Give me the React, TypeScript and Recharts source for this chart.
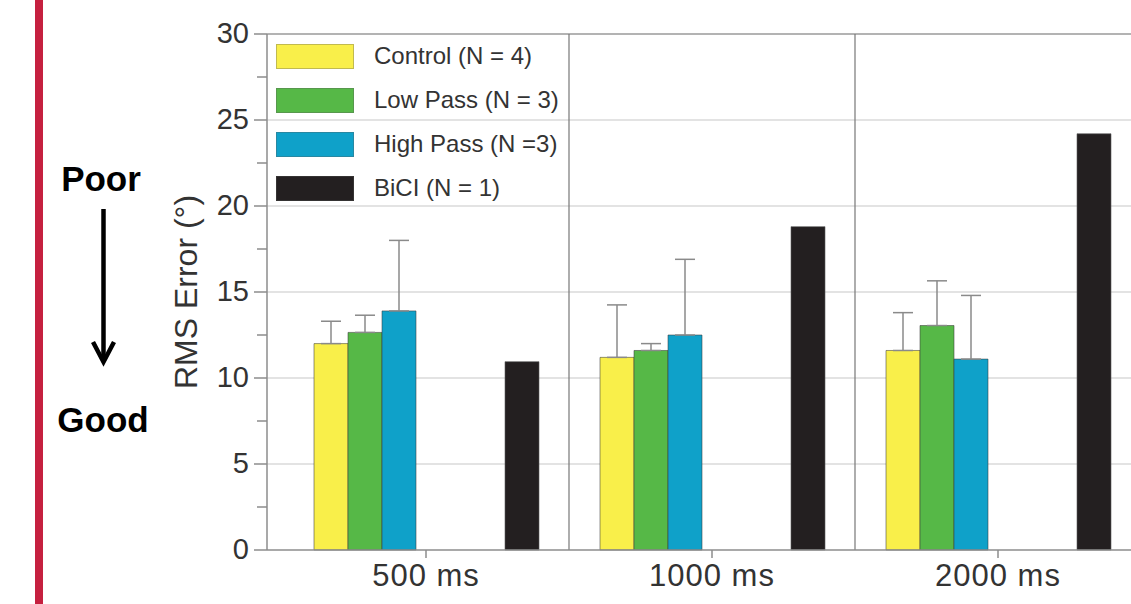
import { BarChart, Bar, XAxis, YAxis, CartesianGrid, ErrorBar, Legend, ReferenceLine } from 'recharts';

const durations = ['500 ms', '1000 ms', '2000 ms'];

const control = [12.0, 11.2, 11.6];
const controlErr = [1.3, 3.05, 2.2];
const lowPass = [12.65, 11.6, 13.05];
const lowPassErr = [1.0, 0.4, 2.6];
const highPass = [13.9, 12.5, 11.1];
const highPassErr = [4.1, 4.4, 3.7];
const bici = [10.95, 18.8, 24.2];

const seriesNames = ['Control (N = 4)', 'Low Pass (N = 3)', 'High Pass (N =3)', 'BiCI (N = 1)'];

const yTicks = [0, 2.5, 5, 7.5, 10, 12.5, 15, 17.5, 20, 22.5, 25, 27.5, 30];
const gridValues = [5, 10, 15, 20, 25];

const data = durations.map((d, i) => ({
  duration: d,
  control: control[i],
  controlErr: [0, controlErr[i]],
  lowPass: lowPass[i],
  lowPassErr: [0, lowPassErr[i]],
  highPass: highPass[i],
  highPassErr: [0, highPassErr[i]],
  bici: bici[i],
}));

const colors = ['#F9EF4A', '#56B847', '#0FA1C9', '#231F20'];
const font = "'Liberation Sans', Arial, Helvetica, sans-serif";
const axisGray = '#8c8c8c';

const YTick = (props: any) => {
  const { x, y, payload } = props;
  const major = payload.value % 5 === 0;
  return (
    <g>
      <line x1={x - (major ? 13 : 10)} x2={x} y1={y} y2={y} stroke={axisGray} strokeWidth={1.5} />
      {major && (
        <text x={x - 18} y={y + 9} textAnchor="end" fontSize={29} fill="#333" fontFamily={font}>
          {payload.value}
        </text>
      )}
    </g>
  );
};

const LegendBox = () => (
  <div style={{ fontFamily: font, fontSize: 24, color: '#333' }}>
    {seriesNames.map((name, i) => (
      <div key={name} style={{ display: 'flex', alignItems: 'center', height: 44 }}>
        <span
          style={{
            display: 'inline-block',
            width: 78,
            height: 25,
            background: colors[i],
            boxSizing: 'border-box',
            border: '1px solid rgba(90,90,90,0.35)',
          }}
        />
        <span style={{ marginLeft: 20, whiteSpace: 'nowrap' }}>{name}</span>
      </div>
    ))}
  </div>
);

export default function App() {
  const barStroke = 'rgba(60,60,60,0.55)';
  return (
    <div
      style={{
        position: 'fixed',
        left: 0,
        top: 0,
        width: 1131,
        height: 604,
        overflow: 'hidden',
        background: '#fff',
        fontFamily: font,
      }}
    >
      <div style={{ position: 'absolute', left: 0, top: 0 }}>
        <BarChart
          width={1150}
          height={604}
          data={data}
          margin={{ top: 34, right: 9, bottom: 0, left: 0 }}
          barGap={0}
        >
          <CartesianGrid horizontal vertical={false} horizontalValues={gridValues} stroke="#dadada" strokeWidth={1.5} />
          <XAxis
            dataKey="duration"
            height={54}
            padding={{ left: 16, right: 0 }}
            stroke={axisGray}
            strokeWidth={1.5}
            tickSize={8}
            tickMargin={6}
            tick={{ fontSize: 31, fill: '#333', fontFamily: font, letterSpacing: 1 }}
          />
          <YAxis
            width={267}
            domain={[0, 30]}
            ticks={yTicks}
            interval={0}
            stroke={axisGray}
            strokeWidth={1.5}
            tickLine={false}
            tickSize={0}
            tickMargin={0}
            tick={<YTick />}
            label={{
              value: 'RMS Error (°)',
              angle: -90,
              position: 'center',
              dx: 52,
              fontSize: 32,
              fill: '#333',
              fontFamily: font,
            }}
          />
          <ReferenceLine y={30} stroke="#9a9a9a" strokeWidth={1.5} />
          <ReferenceLine x={durations[1]} position="start" stroke="#777" strokeWidth={1.2} />
          <ReferenceLine x={durations[2]} position="start" stroke="#777" strokeWidth={1.2} />
          <Legend
            layout="vertical"
            align="center"
            verticalAlign="middle"
            content={<LegendBox />}
            wrapperStyle={{ left: 276, top: 34, width: 330, height: 180 }}
          />
          <Bar dataKey="control" name={seriesNames[0]} fill={colors[0]} stroke={barStroke} barSize={34} isAnimationActive={false}>
            <ErrorBar dataKey="controlErr" width={10} stroke="#8a8a8a" strokeWidth={1.5} direction="y" />
          </Bar>
          <Bar dataKey="lowPass" name={seriesNames[1]} fill={colors[1]} stroke={barStroke} barSize={34} isAnimationActive={false}>
            <ErrorBar dataKey="lowPassErr" width={10} stroke="#8a8a8a" strokeWidth={1.5} direction="y" />
          </Bar>
          <Bar dataKey="highPass" name={seriesNames[2]} fill={colors[2]} stroke={barStroke} barSize={34} isAnimationActive={false}>
            <ErrorBar dataKey="highPassErr" width={10} stroke="#8a8a8a" strokeWidth={1.5} direction="y" />
          </Bar>
          <Bar dataKey="gap" legendType="none" fill="none" barSize={89} isAnimationActive={false} />
          <Bar dataKey="bici" name={seriesNames[3]} fill={colors[3]} stroke="rgba(90,90,90,0.6)" barSize={34} isAnimationActive={false} />
        </BarChart>
      </div>
      <div style={{ position: 'absolute', left: 35, top: 0, width: 8, height: 604, background: '#C5203F' }} />
      <svg style={{ position: 'absolute', left: 0, top: 0 }} width={170} height={604}>
        <text x={101} y={191} textAnchor="middle" fontSize={35} fontWeight="bold" fontFamily={font} fill="#000">
          Poor
        </text>
        <line x1={103.5} x2={103.5} y1={209} y2={360} stroke="#000" strokeWidth={4.5} />
        <polyline points="93,342 103.5,362 114,342" fill="none" stroke="#000" strokeWidth={4.5} />
        <text x={103} y={432} textAnchor="middle" fontSize={35} fontWeight="bold" fontFamily={font} fill="#000">
          Good
        </text>
      </svg>
    </div>
  );
}
